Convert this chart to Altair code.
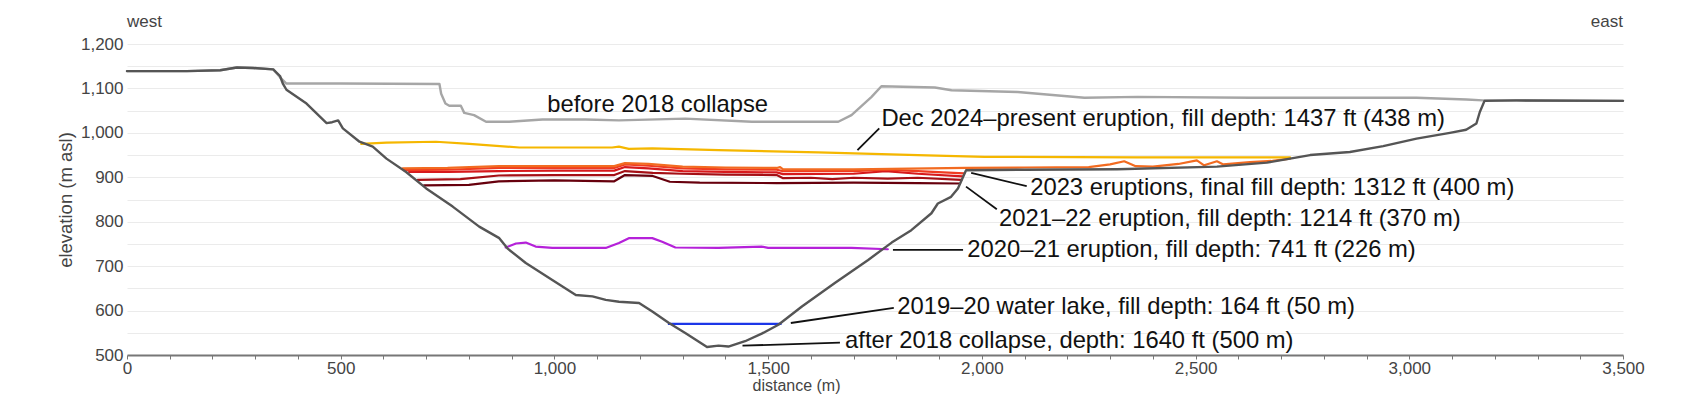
import altair as alt
import pandas as pd

# ---------------- data (distance m, elevation m asl) ----------------
pre_d = [0, 140, 218, 257, 295, 342, 358, 373, 500, 731, 735, 745, 754, 781, 789, 812, 840, 894, 972,
         1073, 1151, 1306, 1462, 1664, 1695, 1742, 1765, 1890, 1929, 2084, 2240, 2364, 2628, 3017, 3134,
         3172, 3500]
pre_e = [1139, 1139, 1141, 1147, 1146, 1143, 1125, 1111, 1111, 1110, 1088, 1066, 1061, 1061, 1045, 1040,
         1025, 1025, 1030, 1030, 1028, 1032, 1025, 1025, 1040, 1081, 1105, 1102, 1096, 1092, 1079, 1081,
         1079, 1079, 1075, 1073, 1072]

post_d = [0, 140, 218, 257, 295, 342, 358, 365, 373, 420, 467, 480, 494, 505, 544, 575, 607, 653, 700,
          762, 824, 871, 890, 933, 995, 1050, 1089, 1120, 1151, 1198, 1229, 1268, 1307, 1357, 1384, 1407,
          1446, 1485, 1524, 1579, 1656, 1734, 1789, 1835, 1882, 1897, 1928, 1944, 1963, 2100, 2317, 2550,
          2667, 2721, 2768, 2861, 2939, 3017, 3095, 3133, 3157, 3165, 3176, 3251, 3500]
post_e = [1139, 1139, 1141, 1147, 1146, 1143, 1128, 1110, 1097, 1066, 1022, 1024, 1028, 1010, 980, 969,
          942, 912, 875, 834, 789, 763, 740, 707, 669, 635, 632, 624, 620, 617, 598, 572, 549, 518, 521,
          519, 531, 548, 568, 609, 662, 714, 753, 781, 819, 841, 856, 875, 916, 917, 918, 924, 933, 942,
          950, 957, 970, 987, 1000, 1007, 1021, 1047, 1072, 1073, 1072]

lake_d = [1268, 1529]
lake_e = [570, 570]

e2020_d = [886, 910, 933, 956, 995, 1120, 1151, 1174, 1229, 1252, 1283, 1384, 1485, 1500, 1695, 1780]
e2020_e = [742, 751, 753, 744, 741, 741, 752, 763, 763, 755, 742, 741, 744, 741, 741, 738]

e2021a_d = [695, 800, 870, 1000, 1140, 1165, 1230, 1270, 1340, 1520, 1700, 1850, 1949]
e2021a_e = [882, 883, 891, 893, 891, 905, 903, 890, 888, 887, 888, 887, 886]

e2021b_d = [680, 780, 870, 1000, 1140, 1165, 1230, 1300, 1400, 1520, 1535, 1600, 1650, 1700, 1780,
            1850, 1952]
e2021b_e = [894, 896, 904, 905, 905, 914, 910, 908, 906, 905, 898, 899, 896, 899, 897, 899, 894]

e2023a_d = [660, 750, 870, 1000, 1140, 1165, 1220, 1300, 1400, 1520, 1535, 1700, 1775, 1850, 1955]
e2023a_e = [912, 912, 914, 915, 915, 923, 920, 914, 912, 911, 907, 908, 914, 908, 902]

e2023b_d = [648, 750, 870, 1000, 1140, 1165, 1220, 1300, 1400, 1520, 1535, 1700, 1775, 1850, 1958]
e2023b_e = [916, 917, 921, 921, 921, 929, 926, 920, 918, 917, 914, 914, 917, 914, 909]

e2023c_d = [645, 750, 870, 1000, 1140, 1165, 1220, 1300, 1400, 1520, 1528, 1535, 1700, 1963, 2100,
            2250, 2300, 2333, 2360, 2400, 2460, 2503, 2520, 2550, 2565, 2627, 2680, 2721]
e2023c_e = [920, 921, 925, 925, 925, 932, 930, 924, 922, 921, 923, 918, 918, 921, 922, 923, 929, 936,
            925, 924, 930, 938, 927, 936, 929, 934, 937, 942]

e2024_d = [548, 607, 723, 801, 918, 1135, 1151, 1174, 1229, 1384, 1617, 1850, 2006, 2364, 2721]
e2024_e = [975, 978, 980, 975, 967, 967, 969, 964, 965, 961, 956, 950, 946, 945, 945]

ann_text = ["before 2018 collapse",
            "Dec 2024\u2013present eruption, fill depth: 1437 ft (438 m)",
            "2023 eruptions, final fill depth: 1312 ft (400 m)",
            "2021\u201322 eruption, fill depth: 1214 ft (370 m)",
            "2020\u201321 eruption, fill depth: 741 ft (226 m)",
            "2019\u201320 water lake, fill depth: 164 ft (50 m)",
            "after 2018 collapse, depth: 1640 ft (500 m)"]
ann_d = [983, 1765, 2113, 2040, 1966, 1802, 1680]
ann_e = [1062, 1031, 876.5, 806, 736.5, 609, 532]

lead_d1 = [1760, 2105, 2035, 1792, 1794, 1668]
lead_e1 = [1010, 880, 828, 736.5, 606, 528]
lead_d2 = [1709, 1975, 1963, 1956, 1553, 1440]
lead_e2 = [961, 910, 879, 736.5, 572, 521]

x_ticks = list(range(0, 3501, 100))
y_ticks = list(range(500, 1201, 50))

# ---------------- styling ----------------
FONT = "Liberation Sans, Arial, sans-serif"
series = [
    ("pre", pre_d, pre_e, "#a6a6a6", 2.4),
    ("lake", lake_d, lake_e, "#1c36e8", 2.4),
    ("e2020", e2020_d, e2020_e, "#b521d9", 2.2),
    ("e2021a", e2021a_d, e2021a_e, "#67000d", 2.2),
    ("e2021b", e2021b_d, e2021b_e, "#a50f15", 2.2),
    ("e2023a", e2023a_d, e2023a_e, "#d7191c", 2.2),
    ("e2023b", e2023b_d, e2023b_e, "#f03b20", 2.2),
    ("e2023c", e2023c_d, e2023c_e, "#f26b21", 2.2),
    ("e2024", e2024_d, e2024_e, "#f5b700", 2.2),
    ("post", post_d, post_e, "#555555", 2.4),
]

xaxis = alt.Axis(values=x_ticks,
                 labelExpr="datum.value % 500 === 0 ? format(datum.value, ',') : ''",
                 title="distance (m)")
yaxis = alt.Axis(values=y_ticks,
                 labelExpr="datum.value % 100 === 0 ? format(datum.value, ',') : ''",
                 title="elevation (m asl)")

xs = alt.Scale(domain=[0, 3500], nice=False, zero=False)
ys = alt.Scale(domain=[500, 1200], nice=False, zero=False)


def X(field="d"):
    return alt.X(f"{field}:Q", scale=xs, axis=xaxis)


def Y(field="e"):
    return alt.Y(f"{field}:Q", scale=ys, axis=yaxis)


layers = []
for name, dd, ee, col, w in series:
    df = pd.DataFrame({"d": dd, "e": ee})
    layers.append(alt.Chart(df).mark_line(color=col, strokeWidth=w, strokeJoin="round",
                                          strokeCap="round").encode(x=X(), y=Y()))

lead_df = pd.DataFrame({"d": lead_d1, "e": lead_e1, "d2": lead_d2, "e2": lead_e2})
layers.append(alt.Chart(lead_df).mark_rule(color="#111", strokeWidth=1.8).encode(
    x=X(), y=Y(), x2="d2:Q", y2="e2:Q"))

ann_df = pd.DataFrame({"d": ann_d, "e": ann_e, "t": ann_text})
layers.append(alt.Chart(ann_df).mark_text(align="left", baseline="middle", fontSize=23.8,
                                          font=FONT, color="#111").encode(
    x=X(), y=Y(), text="t:N"))

side_df = pd.DataFrame({"d": [0, 3500], "t": ["west", "east"], "a": ["left", "right"]})
layers.append(alt.Chart(side_df).transform_filter("datum.a == 'left'").mark_text(
    align="left", baseline="middle", fontSize=17, font=FONT, color="#444").encode(
    x=X(), y=alt.value(-22), text="t:N"))
layers.append(alt.Chart(side_df).transform_filter("datum.a == 'right'").mark_text(
    align="right", baseline="middle", fontSize=17, font=FONT, color="#444").encode(
    x=X(), y=alt.value(-22), text="t:N"))

chart = alt.layer(*layers).properties(
    width=1496, height=311,
    background="white",
    autosize=alt.AutoSizeParams(type="none"),
    padding={"left": 119, "top": 36, "right": 60, "bottom": 48},
).configure_axisX(
    grid=False, ticks=True, tickSize=4, tickColor="#777", tickWidth=1,
    domainColor="#777", domainWidth=2, labelFontSize=17, labelColor="#444",
    labelFont=FONT, labelPadding=1.5, labelFlush=False,
    titleFont=FONT, titleFontSize=16, titleFontWeight="normal",
    titleColor="#444", titleX=669, titleY=30, titleBaseline="middle", titleAlign="center",
).configure_axisY(
    grid=True, gridColor="#ebebeb", gridWidth=1, ticks=False, domain=False,
    labelFontSize=17, labelColor="#444", labelFont=FONT, labelPadding=4,
    titleFont=FONT, titleFontSize=18.5, titleFontWeight="normal", titleColor="#444",
    titleX=-62, titleY=155.5, titleBaseline="middle", titleAngle=270, titleAlign="center",
).configure_view(stroke=None)

chart.save("out.html", embed_options={"renderer": "svg", "actions": False})
